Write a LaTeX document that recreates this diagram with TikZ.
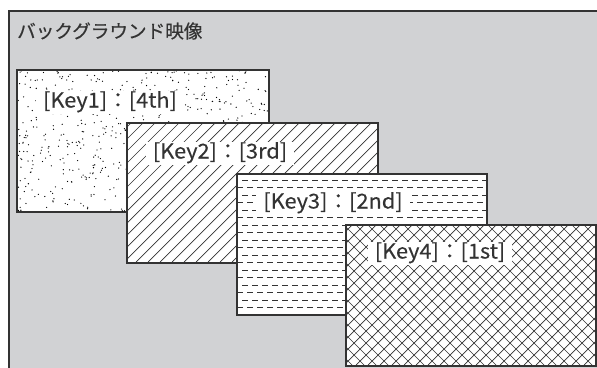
\documentclass[tikz,border=0pt]{standalone}
\usepackage{fontspec}
\setmainfont{Noto Sans CJK JP}
\newfontfamily\lblfont[FakeStretch=1.06,FakeBold=0.3]{Noto Sans CJK JP}
\newfontfamily\ttlfont[FakeBold=0.4]{Noto Sans CJK JP}
\definecolor{bgray}{HTML}{D1D2D4}
\definecolor{ink}{HTML}{333333}
\begin{document}
\begin{tikzpicture}[x=1pt,y=-1pt,
  frame/.style={draw=ink,line width=2pt,fill=bgray},
  layer/.style={draw=ink,line width=1.1pt,fill=white,rectangle,inner sep=0pt,anchor=north west},
  border/.style={draw=ink,line width=1.1pt},
  hatch/.style={draw=ink,line width=0.7pt},
  lbl/.style={fill=white,text=ink,font=\lblfont\fontsize{20.5}{22}\selectfont,inner xsep=7pt,inner ysep=2pt,text height=15pt,text depth=4pt},
  ttl/.style={text=ink,font=\ttlfont\fontsize{18.6}{20}\selectfont,anchor=west,inner sep=0pt}]
\clip (0,0) rectangle (597,367);
\useasboundingbox (0,0) rectangle (597,367);
\fill[white] (0,0) rectangle (597,367);
\draw[frame] (9,10.5) rectangle (640,420);
\node[ttl] (title) at (17,31) {バックグラウンド映像};
% Key1
\node[layer,minimum width=251pt,minimum height=141pt] (k1) at (17,70) {};
\begin{scope}
\clip (k1.south west) rectangle (k1.north east);
\pgfmathsetseed{11}
\foreach \i in {1,...,650}{
  \pgfmathsetmacro\xx{17+251*rnd}
  \pgfmathsetmacro\yy{70+141*rnd}
  \fill[black] (\xx,\yy) circle (0.65);
}
\end{scope}
\draw[border] (k1.south west) rectangle (k1.north east);
\node[lbl] (l1) at (110,102) {[Key1]：[4th]};
% Key2
\node[layer,minimum width=250pt,minimum height=139pt] (k2) at (127,123) {};
\begin{scope}
\clip (k2.south west) rectangle (k2.north east);
\foreach \s in {-140,-128,...,390}{
  \draw[hatch] (\s,262) -- ++(150,-150);
}
\end{scope}
\draw[border] (k2.south west) rectangle (k2.north east);
\node[lbl] (l2) at (220,153) {[Key2]：[3rd]};
% Key3
\node[layer,minimum width=249pt,minimum height=140pt] (k3) at (237,174) {};
\begin{scope}
\clip (k3.south west) rectangle (k3.north east);
\foreach \r [count=\n] in {180,187.5,...,312}{
  \pgfmathsetmacro\ph{mod(\n,2)*5}
  \draw[hatch,line width=0.8pt,dash pattern=on 6pt off 4pt,dash phase=\ph pt] (237,\r) -- (486,\r);
}
\end{scope}
\draw[border] (k3.south west) rectangle (k3.north east);
\node[lbl] (l3) at (333,203) {[Key3]：[2nd]};
% Key4
\node[layer,minimum width=249pt,minimum height=140pt] (k4) at (346,225) {};
\begin{scope}
\clip (k4.south west) rectangle (k4.north east);
\foreach \s in {200,212,...,600}{
  \draw[hatch] (\s,365) -- ++(150,-150);
  \draw[hatch] (\s,225) -- ++(150,150);
}
\end{scope}
\draw[border] (k4.south west) rectangle (k4.north east);
\node[lbl] (l4) at (440,253) {[Key4]：[1st]};
\end{tikzpicture}
\end{document}
